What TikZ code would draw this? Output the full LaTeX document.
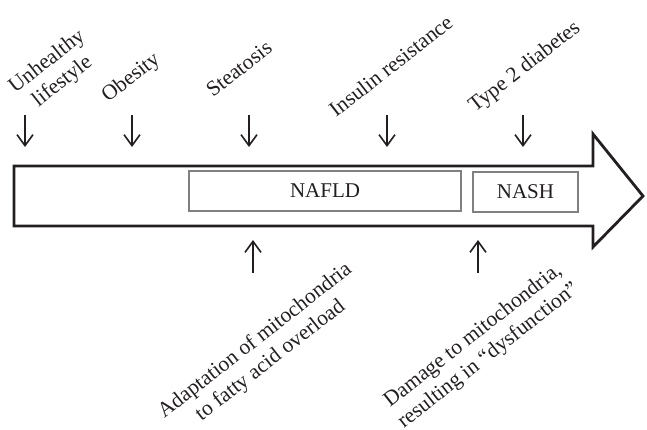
\documentclass[tikz,border=0pt]{standalone}
\usepackage{fontspec}
\setmainfont{Liberation Serif}
\usetikzlibrary{arrows.meta}
\definecolor{ink}{HTML}{231F20}
\definecolor{boxgray}{HTML}{808080}
\begin{document}
\begin{tikzpicture}[x=1pt,y=1pt,
  lbl/.style={text=ink,font=\fontsize{21.5}{25}\selectfont,inner sep=0pt,rotate=38},
  stagebox/.style={draw=boxgray,line width=2pt,text=ink,font=\fontsize{21}{24}\selectfont,inner sep=0pt},
  ptr/.style={draw=ink,line width=1.6pt,-{Straight Barb[length=11pt,width=16pt,line width=1.6pt]}},
  bigarrow/.style={draw=ink,line width=2.8pt,line join=miter,miter limit=20}]
\useasboundingbox (0,0) rectangle (647,-429);
% main arrow
\draw[bigarrow] (14,-166) -- (593,-166) -- (593,-134) -- (643,-196) -- (593,-247) -- (593,-226) -- (14,-226) -- cycle;
% stage boxes
\node[stagebox,minimum width=272pt,minimum height=40pt] (nafld) at (325,-191) {NAFLD};
\node[stagebox,minimum width=105pt,minimum height=40pt] (nash) at (525.5,-192) {NASH};
% top labels
\node[lbl,align=center] (unh) at (55,-72) {Unhealthy\\lifestyle};
\node[lbl,anchor=base west] (obe) at (108,-103) {Obesity};
\node[lbl,anchor=base west] (ste) at (213,-98) {Steatosis};
\node[lbl,anchor=base west] (ins) at (336,-118) {Insulin resistance};
\node[lbl,anchor=base west] (t2d) at (475,-113) {Type 2 diabetes};
% bottom labels
\node[lbl,align=center] (ada) at (263,-351) {Adaptation of mitochondria\\to fatty acid overload};
\node[lbl,align=center] (dam) at (481,-346) {Damage to mitochondria,\\resulting in \textquotedblleft dysfunction\textquotedblright};
% arrow end points
\coordinate (d1s) at (25,-115);  \coordinate (d1e) at (25,-147);
\coordinate (d2s) at (132,-115); \coordinate (d2e) at (132,-147);
\coordinate (d3s) at (249,-115); \coordinate (d3e) at (249,-147);
\coordinate (d4s) at (387,-115); \coordinate (d4e) at (387,-147);
\coordinate (d5s) at (523,-115); \coordinate (d5e) at (523,-147);
\coordinate (u1s) at (253,-273); \coordinate (u1e) at (253,-240);
\coordinate (u2s) at (478,-273); \coordinate (u2e) at (478,-240);
\draw[ptr] (d1s) -- (d1e);
\draw[ptr] (d2s) -- (d2e);
\draw[ptr] (d3s) -- (d3e);
\draw[ptr] (d4s) -- (d4e);
\draw[ptr] (d5s) -- (d5e);
\draw[ptr] (u1s) -- (u1e);
\draw[ptr] (u2s) -- (u2e);
\end{tikzpicture}
\end{document}
